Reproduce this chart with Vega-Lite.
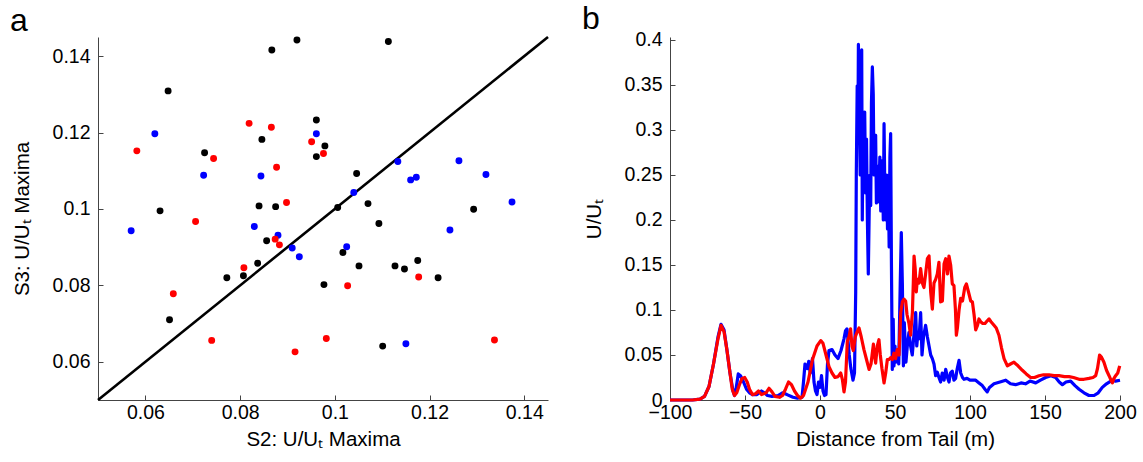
{
  "$schema": "https://vega.github.io/schema/vega-lite/v6.json",
  "padding": {"left": 10, "top": 2, "right": 5, "bottom": 5},
  "background": "white",
  "config": {
    "view": {"stroke": null},
    "font": "Liberation Sans",
    "axis": {
      "grid": false,
      "labelFont": "Liberation Sans",
      "labelFontSize": 19.5,
      "labelColor": "#000000",
      "titleFont": "Liberation Sans",
      "titleFontSize": 20.5,
      "titleFontWeight": "normal",
      "titleColor": "#000000",
      "domainColor": "#444444",
      "domainWidth": 1,
      "tickColor": "#444444",
      "tickSize": -5,
      "labelPadding": 13,
      "labelFlush": false,
      "labelOverlap": false
    },
    "axisX": {"labelPadding": 8, "titlePadding": 8},
    "axisY": {"titlePadding": 20},
    "title": {"font": "Liberation Sans", "fontSize": 32, "fontWeight": "normal", "color": "#000000"}
  },
  "bounds": "flush",
  "spacing": 122,
  "datasets": {
    "diag": [{"x": 0.05, "y": 0.05}, {"x": 0.145, "y": 0.145}],
    "pts": [
      {"x": 0.0648, "y": 0.1309, "g": "black"},
      {"x": 0.0867, "y": 0.1416, "g": "black"},
      {"x": 0.0920, "y": 0.1442, "g": "black"},
      {"x": 0.1113, "y": 0.1438, "g": "black"},
      {"x": 0.0725, "y": 0.1147, "g": "black"},
      {"x": 0.0846, "y": 0.1182, "g": "black"},
      {"x": 0.0961, "y": 0.1233, "g": "black"},
      {"x": 0.0961, "y": 0.1137, "g": "black"},
      {"x": 0.0979, "y": 0.1165, "g": "black"},
      {"x": 0.0840, "y": 0.1008, "g": "black"},
      {"x": 0.0875, "y": 0.1006, "g": "black"},
      {"x": 0.0631, "y": 0.0995, "g": "black"},
      {"x": 0.1046, "y": 0.1093, "g": "black"},
      {"x": 0.1006, "y": 0.1004, "g": "black"},
      {"x": 0.1070, "y": 0.1014, "g": "black"},
      {"x": 0.1293, "y": 0.0999, "g": "black"},
      {"x": 0.0856, "y": 0.0917, "g": "black"},
      {"x": 0.0837, "y": 0.0858, "g": "black"},
      {"x": 0.0772, "y": 0.0820, "g": "black"},
      {"x": 0.0807, "y": 0.0825, "g": "black"},
      {"x": 0.0651, "y": 0.0710, "g": "black"},
      {"x": 0.1093, "y": 0.0962, "g": "black"},
      {"x": 0.1017, "y": 0.0886, "g": "black"},
      {"x": 0.1051, "y": 0.0851, "g": "black"},
      {"x": 0.1127, "y": 0.0851, "g": "black"},
      {"x": 0.1147, "y": 0.0843, "g": "black"},
      {"x": 0.1175, "y": 0.0865, "g": "black"},
      {"x": 0.1218, "y": 0.0820, "g": "black"},
      {"x": 0.0977, "y": 0.0802, "g": "black"},
      {"x": 0.1101, "y": 0.0641, "g": "black"},
      {"x": 0.0620, "y": 0.1197, "g": "blue"},
      {"x": 0.0961, "y": 0.1197, "g": "blue"},
      {"x": 0.0723, "y": 0.1088, "g": "blue"},
      {"x": 0.0844, "y": 0.1086, "g": "blue"},
      {"x": 0.1133, "y": 0.1124, "g": "blue"},
      {"x": 0.1262, "y": 0.1126, "g": "blue"},
      {"x": 0.1160, "y": 0.1076, "g": "blue"},
      {"x": 0.1172, "y": 0.1083, "g": "blue"},
      {"x": 0.1319, "y": 0.1090, "g": "blue"},
      {"x": 0.1040, "y": 0.1043, "g": "blue"},
      {"x": 0.1374, "y": 0.1018, "g": "blue"},
      {"x": 0.0570, "y": 0.0943, "g": "blue"},
      {"x": 0.0830, "y": 0.0954, "g": "blue"},
      {"x": 0.0880, "y": 0.0931, "g": "blue"},
      {"x": 0.0910, "y": 0.0898, "g": "blue"},
      {"x": 0.0925, "y": 0.0875, "g": "blue"},
      {"x": 0.1243, "y": 0.0945, "g": "blue"},
      {"x": 0.1025, "y": 0.0901, "g": "blue"},
      {"x": 0.1150, "y": 0.0647, "g": "blue"},
      {"x": 0.0819, "y": 0.1224, "g": "red"},
      {"x": 0.0866, "y": 0.1214, "g": "red"},
      {"x": 0.0582, "y": 0.1152, "g": "red"},
      {"x": 0.0744, "y": 0.1132, "g": "red"},
      {"x": 0.0951, "y": 0.1176, "g": "red"},
      {"x": 0.0877, "y": 0.1109, "g": "red"},
      {"x": 0.0898, "y": 0.1017, "g": "red"},
      {"x": 0.0976, "y": 0.1145, "g": "red"},
      {"x": 0.0706, "y": 0.0967, "g": "red"},
      {"x": 0.0874, "y": 0.0921, "g": "red"},
      {"x": 0.0883, "y": 0.0906, "g": "red"},
      {"x": 0.0808, "y": 0.0846, "g": "red"},
      {"x": 0.0659, "y": 0.0778, "g": "red"},
      {"x": 0.0740, "y": 0.0656, "g": "red"},
      {"x": 0.0916, "y": 0.0626, "g": "red"},
      {"x": 0.1177, "y": 0.0822, "g": "red"},
      {"x": 0.1027, "y": 0.0799, "g": "red"},
      {"x": 0.0982, "y": 0.0661, "g": "red"},
      {"x": 0.1337, "y": 0.0657, "g": "red"}
    ],
    "blue": [
      {"d": -100, "v": 0}, {"d": -85, "v": 0}, {"d": -80, "v": 0.001}, {"d": -77, "v": 0.004},
      {"d": -74, "v": 0.015}, {"d": -71, "v": 0.04}, {"d": -68, "v": 0.07}, {"d": -66, "v": 0.084},
      {"d": -64, "v": 0.078}, {"d": -62, "v": 0.055}, {"d": -60, "v": 0.03}, {"d": -58, "v": 0.01},
      {"d": -57, "v": 0.005}, {"d": -56, "v": 0.012}, {"d": -54.5, "v": 0.029}, {"d": -53, "v": 0.027},
      {"d": -51, "v": 0.02}, {"d": -49, "v": 0.012}, {"d": -47, "v": 0.008}, {"d": -45, "v": 0.006},
      {"d": -42, "v": 0.006}, {"d": -39, "v": 0.01}, {"d": -37, "v": 0.008}, {"d": -35, "v": 0.005},
      {"d": -32, "v": 0.004}, {"d": -28, "v": 0.005}, {"d": -25, "v": 0.008}, {"d": -22, "v": 0.006},
      {"d": -18, "v": 0.003}, {"d": -15, "v": 0.002}, {"d": -12, "v": 0.003}, {"d": -11, "v": 0.02},
      {"d": -10, "v": 0.04}, {"d": -8.5, "v": 0.035}, {"d": -7.5, "v": 0.043}, {"d": -6.5, "v": 0.03},
      {"d": -5, "v": 0.046}, {"d": -4, "v": 0.02}, {"d": -3, "v": 0.01}, {"d": -2, "v": 0.006},
      {"d": -1, "v": 0.02}, {"d": 0, "v": 0.014}, {"d": 1, "v": 0.027}, {"d": 2, "v": 0.01},
      {"d": 3, "v": 0.005}, {"d": 4, "v": 0.006}, {"d": 5, "v": 0.04}, {"d": 6, "v": 0.055},
      {"d": 8, "v": 0.056}, {"d": 10, "v": 0.05}, {"d": 12, "v": 0.046}, {"d": 14, "v": 0.055},
      {"d": 16, "v": 0.068}, {"d": 17, "v": 0.077}, {"d": 18, "v": 0.079}, {"d": 19.5, "v": 0.05},
      {"d": 20.5, "v": 0.036}, {"d": 22, "v": 0.022}, {"d": 23, "v": 0.03}, {"d": 23.8, "v": 0.12},
      {"d": 24.2, "v": 0.25}, {"d": 24.8, "v": 0.349}, {"d": 25.3, "v": 0.3}, {"d": 25.6, "v": 0.395},
      {"d": 26.2, "v": 0.33}, {"d": 26.8, "v": 0.25}, {"d": 27.3, "v": 0.36}, {"d": 27.8, "v": 0.389},
      {"d": 28.2, "v": 0.2}, {"d": 28.8, "v": 0.32}, {"d": 29.3, "v": 0.28}, {"d": 29.8, "v": 0.32},
      {"d": 30.4, "v": 0.23}, {"d": 31, "v": 0.29}, {"d": 31.6, "v": 0.2}, {"d": 32.2, "v": 0.14},
      {"d": 32.8, "v": 0.21}, {"d": 33.3, "v": 0.25}, {"d": 33.8, "v": 0.216}, {"d": 34.3, "v": 0.33},
      {"d": 34.9, "v": 0.37}, {"d": 35.5, "v": 0.34}, {"d": 36, "v": 0.25}, {"d": 36.5, "v": 0.29},
      {"d": 37.1, "v": 0.294}, {"d": 37.6, "v": 0.219}, {"d": 38.2, "v": 0.26}, {"d": 38.8, "v": 0.22},
      {"d": 39.3, "v": 0.234}, {"d": 39.9, "v": 0.27}, {"d": 40.5, "v": 0.21}, {"d": 41, "v": 0.24},
      {"d": 41.6, "v": 0.266}, {"d": 42.2, "v": 0.2}, {"d": 42.7, "v": 0.307}, {"d": 43.3, "v": 0.22},
      {"d": 43.9, "v": 0.2}, {"d": 44.5, "v": 0.25}, {"d": 45, "v": 0.19}, {"d": 45.6, "v": 0.24},
      {"d": 46.1, "v": 0.17}, {"d": 46.6, "v": 0.27}, {"d": 47.1, "v": 0.296}, {"d": 47.6, "v": 0.157},
      {"d": 48.2, "v": 0.034}, {"d": 48.8, "v": 0.09}, {"d": 49.3, "v": 0.038}, {"d": 50, "v": 0.06},
      {"d": 50.5, "v": 0.042}, {"d": 51.5, "v": 0.05}, {"d": 52.5, "v": 0.04}, {"d": 53.5, "v": 0.13},
      {"d": 54.2, "v": 0.186}, {"d": 54.9, "v": 0.13}, {"d": 55.6, "v": 0.038}, {"d": 56.2, "v": 0.086},
      {"d": 57.3, "v": 0.042}, {"d": 58.2, "v": 0.06}, {"d": 59.3, "v": 0.075}, {"d": 60.4, "v": 0.06},
      {"d": 61.5, "v": 0.05}, {"d": 62.5, "v": 0.07}, {"d": 63.8, "v": 0.097}, {"d": 64.5, "v": 0.06},
      {"d": 65.3, "v": 0.075}, {"d": 66, "v": 0.068}, {"d": 67.1, "v": 0.097}, {"d": 68, "v": 0.05},
      {"d": 69, "v": 0.07}, {"d": 70.4, "v": 0.083}, {"d": 71.6, "v": 0.07}, {"d": 72.7, "v": 0.06},
      {"d": 73.8, "v": 0.05}, {"d": 74.9, "v": 0.046}, {"d": 76, "v": 0.04}, {"d": 77.1, "v": 0.027},
      {"d": 78.2, "v": 0.031}, {"d": 79.3, "v": 0.025}, {"d": 80.4, "v": 0.02}, {"d": 81.5, "v": 0.03},
      {"d": 82.7, "v": 0.022}, {"d": 83.8, "v": 0.034}, {"d": 85, "v": 0.025}, {"d": 86, "v": 0.02},
      {"d": 87, "v": 0.03}, {"d": 88.2, "v": 0.032}, {"d": 89.3, "v": 0.022}, {"d": 90.4, "v": 0.024},
      {"d": 91.5, "v": 0.035}, {"d": 92.7, "v": 0.044}, {"d": 93.8, "v": 0.03}, {"d": 95, "v": 0.025},
      {"d": 96, "v": 0.023}, {"d": 98, "v": 0.024}, {"d": 100, "v": 0.022}, {"d": 103.8, "v": 0.022},
      {"d": 106, "v": 0.019}, {"d": 108.2, "v": 0.016}, {"d": 110, "v": 0.012}, {"d": 111.5, "v": 0.009},
      {"d": 113, "v": 0.014}, {"d": 116, "v": 0.018}, {"d": 120, "v": 0.02}, {"d": 123.8, "v": 0.022},
      {"d": 127, "v": 0.018}, {"d": 130.4, "v": 0.017}, {"d": 134, "v": 0.019}, {"d": 137, "v": 0.018},
      {"d": 140, "v": 0.021}, {"d": 143.8, "v": 0.019}, {"d": 147, "v": 0.022}, {"d": 150.4, "v": 0.025},
      {"d": 154, "v": 0.027}, {"d": 157.1, "v": 0.025}, {"d": 159.5, "v": 0.02}, {"d": 161.6, "v": 0.017},
      {"d": 164, "v": 0.02}, {"d": 167.1, "v": 0.021}, {"d": 170, "v": 0.016}, {"d": 172.7, "v": 0.012},
      {"d": 176, "v": 0.008}, {"d": 179.3, "v": 0.005}, {"d": 182.7, "v": 0.005}, {"d": 185.5, "v": 0.008},
      {"d": 188.2, "v": 0.014}, {"d": 191, "v": 0.018}, {"d": 194.9, "v": 0.022}, {"d": 197, "v": 0.021},
      {"d": 200, "v": 0.022}
    ],
    "red": [
      {"d": -100, "v": 0}, {"d": -85, "v": 0}, {"d": -80, "v": 0.001}, {"d": -77, "v": 0.004},
      {"d": -74, "v": 0.015}, {"d": -71, "v": 0.04}, {"d": -68, "v": 0.068}, {"d": -66, "v": 0.083},
      {"d": -64, "v": 0.076}, {"d": -62, "v": 0.055}, {"d": -60, "v": 0.03}, {"d": -58.5, "v": 0.012},
      {"d": -57, "v": 0.005}, {"d": -55.5, "v": 0.008}, {"d": -53.5, "v": 0.018}, {"d": -52, "v": 0.024},
      {"d": -50.2, "v": 0.025}, {"d": -48.5, "v": 0.02}, {"d": -47, "v": 0.012}, {"d": -45, "v": 0.006},
      {"d": -43, "v": 0.007}, {"d": -41, "v": 0.01}, {"d": -39, "v": 0.006}, {"d": -36, "v": 0.008},
      {"d": -34, "v": 0.013}, {"d": -32, "v": 0.009}, {"d": -30, "v": 0.004}, {"d": -27, "v": 0.003},
      {"d": -25, "v": 0.005}, {"d": -23, "v": 0.012}, {"d": -21, "v": 0.02}, {"d": -19, "v": 0.017},
      {"d": -17, "v": 0.01}, {"d": -15, "v": 0.005}, {"d": -13, "v": 0.002}, {"d": -11, "v": 0.005},
      {"d": -8, "v": 0.02}, {"d": -5, "v": 0.045}, {"d": -2, "v": 0.06}, {"d": 0.5, "v": 0.066},
      {"d": 2, "v": 0.063}, {"d": 4, "v": 0.05}, {"d": 6, "v": 0.037}, {"d": 8, "v": 0.03},
      {"d": 10, "v": 0.025}, {"d": 12, "v": 0.026}, {"d": 13.8, "v": 0.03}, {"d": 14.9, "v": 0.023},
      {"d": 16, "v": 0.009}, {"d": 17, "v": 0.02}, {"d": 18.2, "v": 0.065}, {"d": 19.3, "v": 0.07},
      {"d": 20.4, "v": 0.079}, {"d": 21.3, "v": 0.06}, {"d": 22.2, "v": 0.055}, {"d": 23.5, "v": 0.07},
      {"d": 24.6, "v": 0.075}, {"d": 26, "v": 0.08}, {"d": 27.5, "v": 0.07}, {"d": 29.3, "v": 0.056},
      {"d": 31, "v": 0.045}, {"d": 32.7, "v": 0.034}, {"d": 34, "v": 0.04}, {"d": 35.6, "v": 0.062},
      {"d": 36.3, "v": 0.05}, {"d": 37.1, "v": 0.041}, {"d": 38.2, "v": 0.06}, {"d": 39.3, "v": 0.067},
      {"d": 40.2, "v": 0.05}, {"d": 41.3, "v": 0.035}, {"d": 42.7, "v": 0.019}, {"d": 43.8, "v": 0.03},
      {"d": 44.9, "v": 0.045}, {"d": 46, "v": 0.045}, {"d": 47.1, "v": 0.047}, {"d": 48.2, "v": 0.045},
      {"d": 49.3, "v": 0.052}, {"d": 50.4, "v": 0.046}, {"d": 51.5, "v": 0.056}, {"d": 52.7, "v": 0.05},
      {"d": 53.8, "v": 0.097}, {"d": 54.9, "v": 0.109}, {"d": 56, "v": 0.112}, {"d": 57.1, "v": 0.11},
      {"d": 58, "v": 0.095}, {"d": 59.3, "v": 0.085}, {"d": 60.4, "v": 0.072}, {"d": 61, "v": 0.085},
      {"d": 61.6, "v": 0.097}, {"d": 62.2, "v": 0.13}, {"d": 62.7, "v": 0.16}, {"d": 63.5, "v": 0.145},
      {"d": 64.2, "v": 0.12}, {"d": 64.9, "v": 0.134}, {"d": 66, "v": 0.13}, {"d": 67.1, "v": 0.146},
      {"d": 68.2, "v": 0.13}, {"d": 69.3, "v": 0.125}, {"d": 70.4, "v": 0.14}, {"d": 71.6, "v": 0.157},
      {"d": 72.7, "v": 0.16}, {"d": 73.8, "v": 0.12}, {"d": 74.9, "v": 0.101}, {"d": 76, "v": 0.13},
      {"d": 77.1, "v": 0.134}, {"d": 78.2, "v": 0.14}, {"d": 79.3, "v": 0.153}, {"d": 80.4, "v": 0.109},
      {"d": 81.6, "v": 0.11}, {"d": 82.7, "v": 0.151}, {"d": 83.8, "v": 0.157}, {"d": 85, "v": 0.14},
      {"d": 86, "v": 0.16}, {"d": 87.1, "v": 0.15}, {"d": 88.2, "v": 0.129}, {"d": 89.3, "v": 0.127},
      {"d": 90.3, "v": 0.1}, {"d": 90.9, "v": 0.072}, {"d": 91.6, "v": 0.08}, {"d": 92.7, "v": 0.1},
      {"d": 93.8, "v": 0.113}, {"d": 95, "v": 0.11}, {"d": 96.5, "v": 0.125}, {"d": 97.6, "v": 0.129},
      {"d": 99, "v": 0.12}, {"d": 100.5, "v": 0.11}, {"d": 101.6, "v": 0.109}, {"d": 102.7, "v": 0.095},
      {"d": 103.8, "v": 0.078}, {"d": 105, "v": 0.083}, {"d": 106, "v": 0.09}, {"d": 107.1, "v": 0.087},
      {"d": 108.5, "v": 0.085}, {"d": 110, "v": 0.085}, {"d": 111.5, "v": 0.088}, {"d": 112.7, "v": 0.09},
      {"d": 114, "v": 0.087}, {"d": 116, "v": 0.083}, {"d": 117.5, "v": 0.08}, {"d": 119.3, "v": 0.072},
      {"d": 121, "v": 0.058}, {"d": 122.7, "v": 0.046}, {"d": 124.9, "v": 0.038}, {"d": 127, "v": 0.04},
      {"d": 129.3, "v": 0.042}, {"d": 132, "v": 0.038}, {"d": 134.9, "v": 0.033}, {"d": 137.5, "v": 0.029},
      {"d": 140.4, "v": 0.025}, {"d": 143, "v": 0.025}, {"d": 146, "v": 0.027}, {"d": 149, "v": 0.028},
      {"d": 152.7, "v": 0.028}, {"d": 156, "v": 0.027}, {"d": 159.3, "v": 0.027}, {"d": 163, "v": 0.026},
      {"d": 166, "v": 0.026}, {"d": 169, "v": 0.025}, {"d": 172.7, "v": 0.023}, {"d": 176, "v": 0.023},
      {"d": 179.3, "v": 0.024}, {"d": 182, "v": 0.025}, {"d": 183.8, "v": 0.027}, {"d": 185, "v": 0.035},
      {"d": 186.4, "v": 0.05}, {"d": 187.5, "v": 0.048}, {"d": 189.3, "v": 0.042}, {"d": 191, "v": 0.033},
      {"d": 192.7, "v": 0.027}, {"d": 194, "v": 0.022}, {"d": 194.9, "v": 0.019}, {"d": 196, "v": 0.024},
      {"d": 197.1, "v": 0.027}, {"d": 198.5, "v": 0.03}, {"d": 199.8, "v": 0.038}
    ]
  },
  "hconcat": [
    {
      "width": 450,
      "height": 363,
      "title": {"text": "a", "anchor": "start", "frame": "group", "dx": -88, "offset": -6},
      "layer": [
        {
          "data": {"name": "diag"},
          "mark": {"type": "line", "color": "#000000", "strokeWidth": 2.6},
          "encoding": {
            "x": {"field": "x", "type": "quantitative", "scale": {"domain": [0.05, 0.145], "nice": false, "zero": false},
                  "axis": {"values": [0.06, 0.08, 0.1, 0.12, 0.14], "format": "~g", "title": "S2: U/Uₜ Maxima"}},
            "y": {"field": "y", "type": "quantitative", "scale": {"domain": [0.05, 0.145], "nice": false, "zero": false},
                  "axis": {"values": [0.06, 0.08, 0.1, 0.12, 0.14], "format": "~g", "title": "S3: U/Uₜ Maxima"}}
          }
        },
        {
          "data": {"name": "pts"},
          "mark": {"type": "circle", "size": 48, "opacity": 1},
          "encoding": {
            "x": {"field": "x", "type": "quantitative"},
            "y": {"field": "y", "type": "quantitative"},
            "color": {"field": "g", "type": "nominal", "scale": {"domain": ["black", "blue", "red"], "range": ["#000000", "#0000ff", "#ff0000"]}, "legend": null}
          }
        }
      ]
    },
    {
      "width": 450,
      "height": 363,
      "title": {"text": "b", "anchor": "start", "frame": "group", "dx": -88, "offset": -6},
      "layer": [
        {
          "data": {"name": "blue"},
          "mark": {"type": "line", "color": "#0000ff", "strokeWidth": 3.2, "strokeJoin": "round"},
          "encoding": {
            "x": {"field": "d", "type": "quantitative", "scale": {"domain": [-100, 200], "nice": false, "zero": false},
                  "axis": {"values": [-100, -50, 0, 50, 100, 150, 200], "title": "Distance from Tail (m)"}},
            "y": {"field": "v", "type": "quantitative", "scale": {"domain": [0, 0.4033], "nice": false},
                  "axis": {"values": [0, 0.05, 0.1, 0.15, 0.2, 0.25, 0.3, 0.35, 0.4], "format": "~g", "title": "U/Uₜ"}}
          }
        },
        {
          "data": {"name": "red"},
          "mark": {"type": "line", "color": "#ff0000", "strokeWidth": 3.2, "strokeJoin": "round"},
          "encoding": {
            "x": {"field": "d", "type": "quantitative"},
            "y": {"field": "v", "type": "quantitative"}
          }
        }
      ]
    }
  ]
}
